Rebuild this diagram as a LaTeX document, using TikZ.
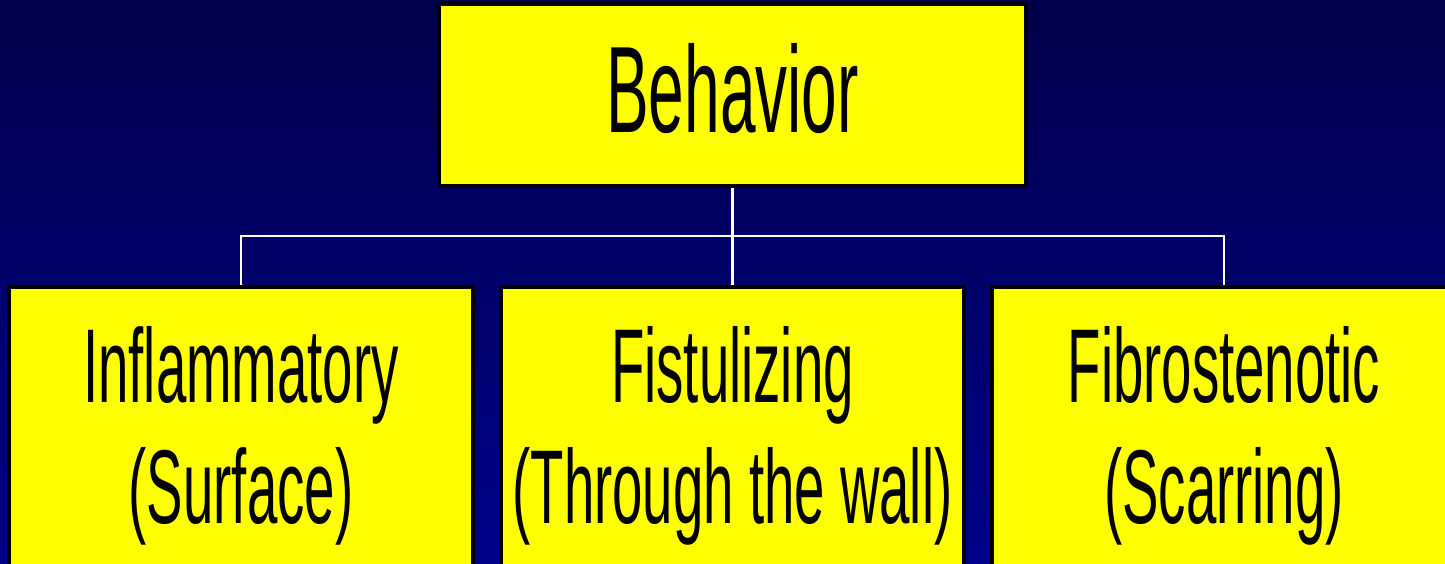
\documentclass[tikz,border=0pt]{standalone}
\usepackage{fontspec}
\setmainfont{Liberation Sans}
\definecolor{bgtop}{RGB}{0,0,74}
\definecolor{bgbot}{RGB}{0,0,138}
\definecolor{boxyellow}{RGB}{255,255,0}
\newcommand{\sq}[1]{\scalebox{0.52}[1]{#1}}
\begin{document}
\begin{tikzpicture}[x=1pt,y=-1pt,
  box/.style={draw=black, line width=3.5pt, fill=boxyellow, rectangle, inner sep=0pt},
  lbl/.style={inner sep=0pt, align=center, anchor=base, text=black},
  conn/.style={draw=white, line width=2.2pt}]
\useasboundingbox (0,0) rectangle (1445,564);
\fill[top color=bgtop, bottom color=bgbot] (0,0) rectangle (1445,564);
% boxes
\node[box, minimum width=587pt, minimum height=182pt] (top) at (732.5,95) {};
\node[box, minimum width=464pt, minimum height=353pt] (b1) at (241,463.5) {};
\node[box, minimum width=463pt, minimum height=353pt] (b2) at (732.5,463.5) {};
\node[box, minimum width=464pt, minimum height=353pt] (b3) at (1224,463.5) {};
% connectors
\coordinate (j) at (732.5,236);
\draw[conn] (top.south) -- (j);
\draw[conn] (j) -- (b2.north);
\draw[conn] (b1.north) -- (b1.north |- j) -- (b3.north |- j) -- (b3.north);
% redraw box borders over line ends
\node[box, minimum width=587pt, minimum height=182pt] at (top) {};
\node[box, minimum width=464pt, minimum height=353pt] at (b1) {};
\node[box, minimum width=463pt, minimum height=353pt] at (b2) {};
\node[box, minimum width=464pt, minimum height=353pt] at (b3) {};
% labels (base anchor = baseline of last line)
\node[lbl, font=\fontsize{123}{140}\selectfont] (ttop) at (732.5,133) {\sq{Behavior}};
\node[lbl, font=\fontsize{105}{121}\selectfont] (t1) at (241,523) {\sq{Inflammatory}\\\sq{(Surface)}};
\node[lbl, font=\fontsize{105}{121}\selectfont] (t2) at (732.5,523) {\sq{Fistulizing}\\\sq{(Through the wall)}};
\node[lbl, font=\fontsize{105}{121}\selectfont] (t3) at (1224,523) {\sq{Fibrostenotic}\\\sq{(Scarring)}};
\end{tikzpicture}
\end{document}
